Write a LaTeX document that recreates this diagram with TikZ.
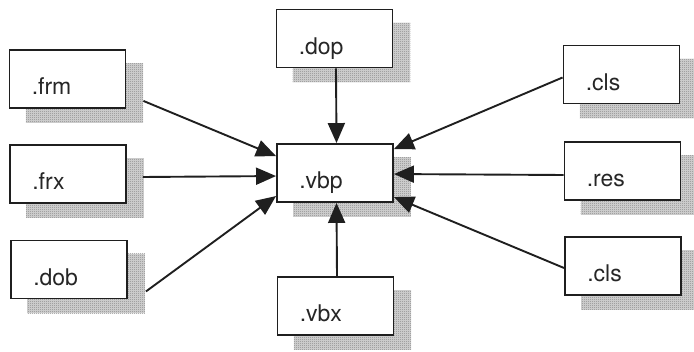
\documentclass[tikz,border=0pt]{standalone}
\usepackage{fontspec}
\setmainfont{TeX Gyre Heros}
\usetikzlibrary{arrows.meta,calc,patterns.meta}

% checkerboard stipple used for the box shadows
\pgfdeclarepattern{
  name=stipple, type=uncolored,
  bottom left={\pgfpointorigin}, top right={\pgfpoint{2pt}{2pt}},
  tile size={\pgfpoint{2pt}{2pt}},
  code={
    \pgfpathrectangle{\pgfpointorigin}{\pgfpoint{1pt}{1pt}}
    \pgfpathrectangle{\pgfpoint{1pt}{1pt}}{\pgfpoint{1pt}{1pt}}
    \pgfusepath{fill}}
}
\pgfdeclarelayer{shade}
\pgfsetlayers{shade,main}

\tikzset{
  filebox/.style={draw=black!88, line width=1.9pt, fill=white,
    minimum width=116pt, minimum height=58pt, inner sep=0pt},
  boxshade/.style={preaction={fill=black!16}, pattern=stipple, pattern color=black!48},
  filetext/.style={anchor=base west, inner sep=0pt,
    font=\fontsize{23}{27}\selectfont, text=black!85},
  feed/.style={draw=black!88, line width=1.9pt,
    -{Triangle[length=20pt,width=17pt]}},
}

\begin{document}
\begin{tikzpicture}[x=1pt,y=-1pt]
  \useasboundingbox (0,0) rectangle (694,352);

  % file boxes
  \node[filebox] (frm)  at (67.5,79)    {};
  \node[filebox] (frx)  at (68,174)     {};
  \node[filebox] (dob)  at (69,269.5)   {};
  \node[filebox] (dop)  at (334.5,38.5) {};
  \node[filebox] (vbp)  at (335,173)    {};
  \node[filebox] (vbx)  at (335.5,306)  {};
  \node[filebox] (clsa) at (621.5,74.5) {};
  \node[filebox] (res)  at (622.5,171)  {};
  \node[filebox] (clsb) at (623,266)    {};

  % stippled shadows, offset down and to the right, behind the boxes
  \begin{pgfonlayer}{shade}
    \foreach \n in {frm,frx,dob,dop,vbp,vbx,clsa,res,clsb}
      \fill[boxshade] ($(\n.north west)+(17,14)$) rectangle ($(\n.south east)+(17,14)$);
  \end{pgfonlayer}

  % labels sit low and to the left in each box
  \foreach \n/\t in {frm/.frm, frx/.frx, dob/.dob, dop/.dop, vbp/.vbp,
                     vbx/.vbx, clsa/.cls, res/.res, clsb/.cls}
    \node[filetext] (\n-label) at ($(\n.south west)+(23,-14)$) {\t};

  % free ends of the incoming connectors
  \coordinate (frm-out) at ($(frm.south east)+(17,-8)$);
  \coordinate (frx-out) at ($(frx.east)+(16,3)$);
  \coordinate (dob-out) at ($(dob.south east)+(18,-8)$);
  \coordinate (vbp-in1) at ($(vbp.north west)+(0,13)$);
  \coordinate (vbp-in2) at ($(vbp.north west)+(0,33)$);
  \coordinate (vbp-in3) at ($(vbp.north west)+(0,53)$);
  \coordinate (vbp-in4) at ($(vbp.north east)+(0,6)$);
  \coordinate (vbp-in5) at ($(vbp.north east)+(0,31)$);
  \coordinate (vbp-in6) at ($(vbp.north east)+(0,54)$);
  \coordinate (clsa-out) at ($(clsa.west)+(0,3)$);
  \coordinate (res-out)  at ($(res.west)+(0,4)$);
  \coordinate (clsb-out) at ($(clsb.west)+(0,2)$);

  % connectors into the project file
  \draw[feed] (frm-out) -- (vbp-in1);
  \draw[feed] (frx-out) -- (vbp-in2);
  \draw[feed] (dob-out) -- (vbp-in3);
  \draw[feed] (clsa-out) -- (vbp-in4);
  \draw[feed] (res-out)  -- (vbp-in5);
  \draw[feed] (clsb-out) -- (vbp-in6);
  \draw[feed] ($(dop.south)+(1.5,0)$) -- ($(vbp.north)+(1.5,0)$);
  \draw[feed] ($(vbx.north)+(1.5,0)$) -- ($(vbp.south)+(1.5,0)$);
\end{tikzpicture}
\end{document}
